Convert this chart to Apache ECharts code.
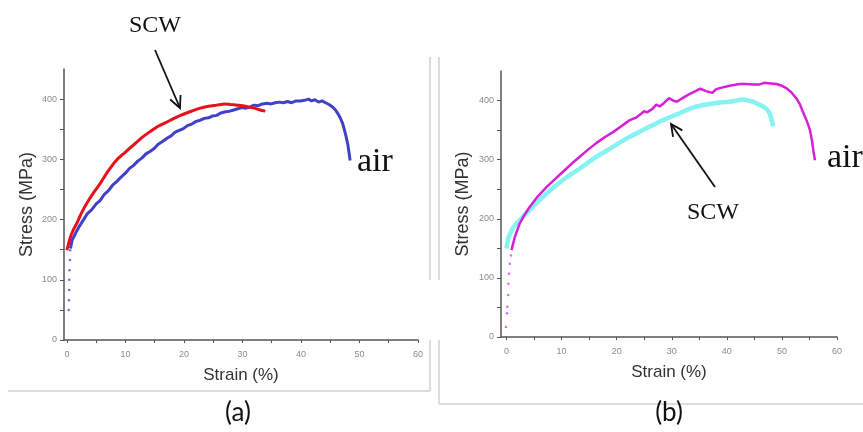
<!DOCTYPE html>
<html>
<head>
<meta charset="utf-8">
<script src="https://cdn.jsdelivr.net/npm/echarts@6/dist/echarts.min.js"></script>
<style>html,body{margin:0;padding:0;background:#fff}#c{width:863px;height:432px}</style>
</head>
<body>
<div id="c"></div>
<script>
// ---- tick values ----
const xTickVals = [0,5,10,15,20,25,30,35,40,45,50,55,60];
const xLabelVals = [0,10,20,30,40,50,60];
const yTickVals = [0,50,100,150,200,250,300,350,400];
const yLabelVals = [0,100,200,300,400];

// ---- panel (a): strain %, stress MPa ----
const scwA = [[0,149],[0.5,168],[1.0,181],[1.7,194],[2.5,211],[3.4,227],[4.5,244],[5.7,260],[7.0,280],[8.5,299],[10.0,312],[11.4,324],[12.8,336],[14.2,346],[15.6,355],[17.1,362],[18.3,368],[19.4,373],[21.0,379],[22.8,385],[24.2,388],[25.6,390],[27.0,392],[28.0,391],[29.1,390],[30.0,389],[31.0,387],[32.0,385],[33.0,382],[33.9,380]];
const airElasticA = [[0.3,50],[0.35,66],[0.4,83],[0.4,100],[0.45,116],[0.5,133],[0.55,149]];
const airA = [[0.6,152],[0.9,166],[1.5,178],[2.2,190],[2.8,199],[3.5,210],[4.2,216],[5.0,226],[5.7,232],[6.4,242],[7.1,248],[7.8,257],[8.5,263],[9.2,270],[10.0,277],[10.7,285],[11.4,290],[12.1,297],[12.8,302],[13.5,309],[14.2,313],[14.9,318],[15.6,325],[16.4,330],[17.1,335],[17.8,339],[18.5,345],[19.2,348],[19.9,351],[20.6,356],[21.4,359],[22.1,363],[22.8,365],[23.5,368],[24.2,369],[24.9,372],[25.6,373],[26.3,377],[27.1,379],[27.8,380],[28.5,382],[29.2,384],[29.9,386],[30.6,385],[31.3,387],[32.0,390],[32.7,389],[33.4,392],[34.2,393],[34.9,392],[35.6,394],[36.3,395],[37.0,394],[37.7,396],[38.4,394],[39.2,397],[39.9,397],[40.6,398],[41.3,400],[41.8,397],[42.4,399],[43.0,395],[43.6,397],[44.2,394],[44.8,391],[45.4,387],[45.9,382],[46.3,376],[46.7,369],[47.1,360],[47.4,350],[47.7,338],[48.0,325],[48.2,312],[48.4,298]];

// ---- panel (b) ----
const airElasticB = [[-0.1,17],[0.1,40],[0.15,51],[0.3,71],[0.35,90],[0.45,107],[0.6,124],[0.8,138]];
const airB = [[0.9,147],[1.5,169],[2.4,192],[3.3,207],[4.2,220],[5.7,238],[7.3,254],[8.8,267],[10.3,280],[11.8,293],[13.3,305],[14.8,317],[16.3,328],[17.8,338],[19.4,347],[20.9,357],[21.5,361],[22.4,367],[23.5,371],[24.5,378],[25.0,382],[25.5,380],[26.5,386],[27.2,393],[27.8,390],[28.6,396],[29.5,404],[30.3,400],[30.9,398],[32.1,405],[33.2,411],[34.5,417],[35.2,420],[36.2,416],[37.4,413],[38.0,419],[38.7,421],[40.5,425],[42.3,428],[43.5,428],[44.8,427],[45.8,427],[46.8,430],[48.0,429],[49.0,428],[50.0,425],[50.8,421],[51.7,414],[52.6,404],[53.3,393],[53.8,381],[54.5,366],[55.1,350],[55.5,330],[55.7,316],[56.0,299]];
const scwB = [[0,150],[0.3,167],[1.0,182],[1.8,192],[3.0,204],[4.2,215],[5.7,229],[7.3,243],[8.8,255],[10.3,266],[11.8,276],[13.3,285],[14.8,295],[16.3,305],[17.8,313],[19.4,322],[20.9,331],[22.4,339],[23.9,346],[25.4,353],[26.9,360],[28.4,367],[30.0,373],[31.5,379],[33.0,385],[34.5,390],[36.0,393],[37.5,395],[39.0,397],[40.5,398],[41.8,400],[42.9,402],[43.9,400],[44.8,398],[45.7,394],[46.6,390],[47.3,385],[47.8,378],[48.1,368],[48.4,356]];

const axisColor = '#555';
function xAxisCfg(gridIndex, min) {
  return {
    type: 'value', gridIndex: gridIndex, min: min, max: 60,
    axisLine: { show: true, onZero: false, lineStyle: { color: axisColor, width: 1.5 } },
    axisTick: { show: true, length: 3, customValues: xTickVals, lineStyle: { color: axisColor } },
    axisLabel: { customValues: xLabelVals, fontSize: 9, color: '#8a8a8a', margin: 10, fontFamily: 'Liberation Sans' },
    splitLine: { show: false },
    name: 'Strain (%)', nameLocation: 'middle', nameGap: 27,
    nameTextStyle: { fontSize: 17, color: '#333', fontFamily: 'Liberation Sans' }
  };
}
function yAxisCfg(gridIndex, gap) {
  return {
    type: 'value', gridIndex: gridIndex, min: 0, max: 450,
    axisLine: { show: true, onZero: false, lineStyle: { color: axisColor, width: 1.5 } },
    axisTick: { show: true, length: 4, customValues: yTickVals, lineStyle: { color: axisColor } },
    axisLabel: { customValues: yLabelVals, fontSize: 9, color: '#8a8a8a', margin: 7, fontFamily: 'Liberation Sans' },
    splitLine: { show: false },
    name: 'Stress (MPa)', nameLocation: 'middle', nameGap: gap, nameRotate: 90,
    nameTextStyle: { fontSize: 18, color: '#333', fontFamily: 'Liberation Sans' }
  };
}

function arrow(x1, y1, x2, y2) {
  const dx = x2 - x1, dy = y2 - y1, L = Math.hypot(dx, dy);
  const ux = dx / L, uy = dy / L, h = 13, w = 0.45;
  const ca = Math.cos(w), sa = Math.sin(w);
  const p1 = [x2 - h * (ux * ca - uy * sa), y2 - h * (uy * ca + ux * sa)];
  const p2 = [x2 - h * (ux * ca + uy * sa), y2 - h * (uy * ca - ux * sa)];
  return [
    { type: 'line', shape: { x1: x1, y1: y1, x2: x2, y2: y2 }, style: { stroke: '#111', lineWidth: 1.8 } },
    { type: 'polyline', shape: { points: [p1, [x2, y2], p2] }, style: { stroke: '#111', lineWidth: 1.8, fill: null } }
  ];
}
function vline(x, y1, y2) { return { type: 'line', shape: { x1: x, y1: y1, x2: x, y2: y2 }, style: { stroke: '#dcdcdc', lineWidth: 2 } }; }
function hline(y, x1, x2) { return { type: 'line', shape: { x1: x1, y1: y, x2: x2, y2: y }, style: { stroke: '#dcdcdc', lineWidth: 2 } }; }
function txt(x, y, s, size, family, align) {
  return { type: 'text', x: x, y: y, style: { text: s, fontSize: size, fontFamily: family, fill: '#111', align: align || 'center', verticalAlign: 'middle' } };
}

const chart = echarts.init(document.getElementById('c'), null, { renderer: 'canvas' });
chart.setOption({
  backgroundColor: '#fff',
  animation: false,
  grid: [
    { left: 64, right: 445, top: 69, bottom: 92 },
    { left: 501, right: 26, top: 71, bottom: 95 }
  ],
  xAxis: [xAxisCfg(0, -0.5), xAxisCfg(1, -1)],
  yAxis: [yAxisCfg(0, 28), yAxisCfg(1, 29)],
  series: [
    { type: 'scatter', xAxisIndex: 0, yAxisIndex: 0, data: airElasticA, symbolSize: 2.5, itemStyle: { color: '#4a4ac8' } },
    { type: 'line', xAxisIndex: 0, yAxisIndex: 0, data: airA, showSymbol: false, lineStyle: { color: '#4040c8', width: 3 } },
    { type: 'line', xAxisIndex: 0, yAxisIndex: 0, data: scwA, showSymbol: false, smooth: 0.3, lineStyle: { color: '#e8101a', width: 3 } },
    { type: 'line', xAxisIndex: 1, yAxisIndex: 1, data: scwB, showSymbol: false, lineStyle: { color: '#86f2f2', width: 4.5 } },
    { type: 'scatter', xAxisIndex: 1, yAxisIndex: 1, data: airElasticB, symbolSize: 2.5, itemStyle: { color: '#e040e0' } },
    { type: 'line', xAxisIndex: 1, yAxisIndex: 1, data: airB, showSymbol: false, lineStyle: { color: '#d81fd8', width: 2.5 } }
  ],
  graphic: [].concat(
    [vline(430, 57, 280), vline(430, 340, 391), hline(391, 8, 430),
     vline(439, 57, 280), vline(439, 340, 404), hline(404, 439, 863)],
    arrow(155, 50, 180, 108),
    arrow(715, 187, 671, 124),
    [txt(155, 26, 'SCW', 24, 'Liberation Serif'),
     txt(713, 213, 'SCW', 24, 'Liberation Serif'),
     txt(357, 162, 'air', 34, 'Liberation Serif', 'left'),
     txt(827, 158, 'air', 34, 'Liberation Serif', 'left'),
     txt(238, 413, '(a)', 26, 'Lato'),
     txt(669, 413, '(b)', 26, 'Lato')]
  )
});
</script>
</body>
</html>
